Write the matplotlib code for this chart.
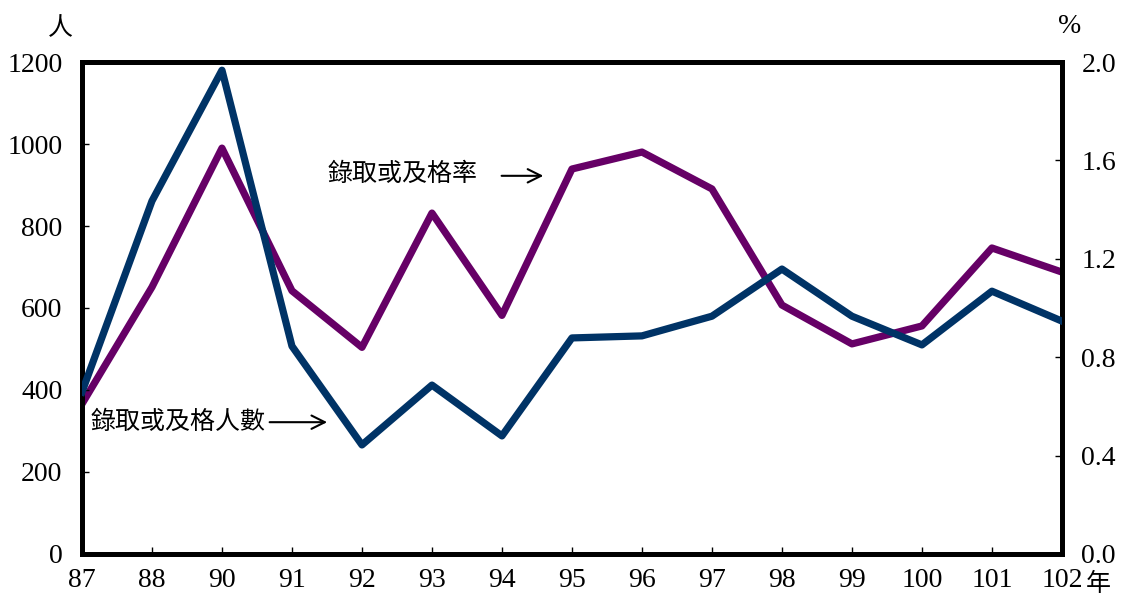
import numpy as np
import matplotlib
matplotlib.use('Agg')
import matplotlib.pyplot as plt

years = ['87', '88', '90', '91', '92', '93', '94', '95', '96', '97', '98', '99', '100', '101', '102']
persons = [395, 861, 1180, 507, 266, 412, 288, 527, 532, 580, 695, 580, 510, 641, 568]
rate = [0.61, 1.085, 1.65, 1.07, 0.84, 1.386, 0.97, 1.565, 1.634, 1.484, 1.012, 0.854, 0.927, 1.244, 1.146]

plt.rcParams['font.family'] = ['Liberation Serif', 'Noto Sans CJK TC']

fig = plt.figure(figsize=(11.26, 5.98), dpi=100)
ax = fig.add_axes([0.0728, 0.0736, 0.8703, 0.8227])
ax2 = ax.twinx()

x = np.arange(len(years))
ax.plot(x, persons, color='#003366', lw=5.2, solid_joinstyle='round', zorder=3)
ax2.plot(x, rate, color='#660066', lw=5.2, solid_joinstyle='round', zorder=2)

ax.set_xlim(0, len(years) - 1)
ax.set_ylim(0, 1200)
ax2.set_ylim(0, 2.0)
ax.set_yticks(np.arange(0, 1201, 200))
ax2.set_yticks(np.arange(0, 2.01, 0.4))
ax2.set_yticklabels(['%.1f' % v for v in np.arange(0, 2.01, 0.4)])
ax.set_xticks(x)
ax.set_xticklabels(years)

for a in (ax, ax2):
    for s in a.spines.values():
        s.set_linewidth(3.5)
    a.tick_params(direction='in', length=5, width=1, labelsize=20)
ax.tick_params(axis='x', pad=10)
ax.tick_params(axis='y', pad=14)
ax2.tick_params(axis='y', pad=14)
ax.set_zorder(ax2.get_zorder() + 1)
ax.patch.set_visible(False)

fig.text(0.054, 0.952, '人', fontsize=18, ha='center', va='center')
fig.text(0.950, 0.955, '%', fontsize=20, ha='center', va='center')
fig.text(0.975, 0.022, '年', fontsize=18, ha='center', va='center')

fig.text(0.291, 0.708, '錄取或及格率', fontsize=18, ha='left', va='center', style='italic')
ax.annotate('', xy=(0.485, 0.706), xytext=(0.443, 0.706), xycoords='figure fraction',
            arrowprops=dict(arrowstyle='->', lw=1.5, color='black', mutation_scale=24))
fig.text(0.080, 0.294, '錄取或及格人數', fontsize=18, ha='left', va='center', style='italic')
ax.annotate('', xy=(0.293, 0.294), xytext=(0.237, 0.294), xycoords='figure fraction',
            arrowprops=dict(arrowstyle='->', lw=1.5, color='black', mutation_scale=24))

fig.savefig('out.png', dpi=100)
